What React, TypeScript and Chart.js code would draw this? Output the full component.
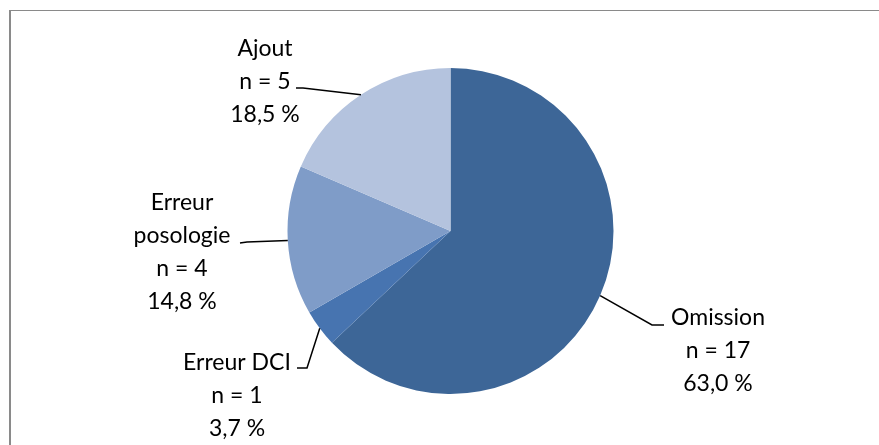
import React, { useEffect, useRef } from "react";
import { Chart, registerables } from "chart.js";

Chart.register(...registerables);

const categories = ["Omission", "Erreur DCI", "Erreur posologie", "Ajout"];
const labelLines = [["Omission"], ["Erreur DCI"], ["Erreur", "posologie"], ["Ajout"]];
const counts = [17, 1, 4, 5];
const colors = ["#3D6697", "#4774B0", "#7F9CC8", "#B4C3DE"];

// label layout (text centre x, first line y, leader elbow, leader end)
const labelLayout = [
  { x: 718, y: 318, elbow: [652, 325], end: [664, 325] },
  { x: 237, y: 363, elbow: [307, 368], end: [297, 368] },
  { x: 182, y: 203, elbow: [247, 242], end: [240, 243] },
  { x: 265, y: 49, elbow: [303, 88], end: [296, 88] },
];

const LINE_H = 32.8;
const FONT = "23px Lato";

const labelPlugin = {
  id: "pieLabels",
  afterDatasetsDraw(chart: any) {
    const ctx = chart.ctx;
    const meta = chart.getDatasetMeta(0);
    const total = counts.reduce((a, b) => a + b, 0);
    ctx.save();
    ctx.font = FONT;
    ctx.fillStyle = "#000";
    ctx.textAlign = "center";
    ctx.textBaseline = "middle";
    meta.data.forEach((arc: any, i: number) => {
      const p = arc.getProps(["x", "y", "startAngle", "endAngle", "outerRadius"], true);
      const mid = (p.startAngle + p.endAngle) / 2;
      const ax = p.x + Math.cos(mid) * p.outerRadius;
      const ay = p.y + Math.sin(mid) * p.outerRadius;
      const L = labelLayout[i];
      ctx.strokeStyle = "#000";
      ctx.lineWidth = 1.5;
      ctx.beginPath();
      ctx.moveTo(ax, ay);
      ctx.lineTo(L.elbow[0], L.elbow[1]);
      ctx.lineTo(L.end[0], L.end[1]);
      ctx.stroke();
      const pct = ((counts[i] / total) * 100).toFixed(1).replace(".", ",") + " %";
      const lines = [...labelLines[i], "n = " + counts[i], pct];
      lines.forEach((t, k) => ctx.fillText(t, L.x, L.y + k * LINE_H));
    });
    ctx.restore();
  },
};

export default function App() {
  const ref = useRef<HTMLCanvasElement>(null);
  useEffect(() => {
    if (!ref.current) return;
    const chart = new Chart(ref.current, {
      type: "pie",
      data: {
        labels: categories,
        datasets: [
          {
            data: counts,
            backgroundColor: colors,
            borderWidth: 0,
            hoverOffset: 0,
          },
        ],
      },
      options: {
        responsive: false,
        animation: false,
        events: [],
        layout: { padding: { left: 287.5, right: 265.5, top: 68, bottom: 51 } },
        plugins: { legend: { display: false }, tooltip: { enabled: false } },
      },
      plugins: [labelPlugin],
    });
    return () => chart.destroy();
  }, []);
  return (
    <div style={{ position: "fixed", left: 0, top: 0, width: 879, height: 445, background: "#fff", overflow: "hidden" }}>
      <div
        style={{
          position: "absolute",
          left: 9,
          top: 10,
          width: 900,
          height: 500,
          borderLeft: "2px solid #8a8a8a",
          borderTop: "1px solid #8a8a8a",
        }}
      />
      <canvas ref={ref} width={879} height={445} style={{ position: "absolute", left: 0, top: 0 }} />
    </div>
  );
}
